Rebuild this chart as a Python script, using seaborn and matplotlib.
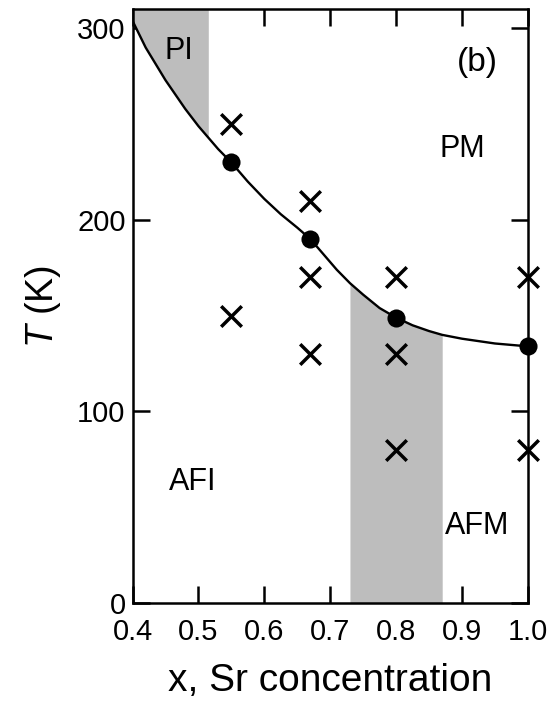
import numpy as np
import pandas as pd
import matplotlib
matplotlib.use("Agg")
import matplotlib.pyplot as plt
import seaborn as sns

# ---- data ----
curve_x = [0.40, 0.42, 0.45, 0.48, 0.50, 0.515, 0.53, 0.55, 0.575, 0.60, 0.625, 0.65, 0.67, 0.69, 0.71, 0.73,
           0.75, 0.775, 0.80, 0.825, 0.85, 0.87, 0.90, 0.95, 1.00]
curve_T = [304, 290, 273, 258, 249, 243, 237, 230, 220, 211, 203, 196, 190, 182, 174, 167,
           161, 154, 149, 145, 142, 140, 138, 135.5, 134]

circle_x = [0.55, 0.67, 0.80, 1.00]
circle_T = [230, 190, 149, 134]

cross_x = [0.55, 0.55, 0.67, 0.67, 0.67, 0.80, 0.80, 0.80, 1.00, 1.00]
cross_T = [250, 150, 210, 170, 130, 170, 130, 80, 170, 80]

pi_range = [0.40, 0.515]
afm_range = [0.73, 0.87]

x_ticks = [0.4, 0.5, 0.6, 0.7, 0.8, 0.9, 1.0]
x_ticklabels = ["0.4", "0.5", "0.6", "0.7", "0.8", "0.9", "1.0"]
y_ticks = [0, 100, 200, 300]
y_ticklabels = ["0", "100", "200", "300"]

labels = ["PI", "PM", "AFI", "AFM", "(b)"]
label_x = [0.47, 0.90, 0.492, 0.923, 0.924]
label_T = [288, 237, 63, 40, 282]

# ---- styling ----
sns.set_theme(style="ticks")
plt.rcParams['font.family'] = ['Liberation Sans', 'DejaVu Sans']
plt.rcParams['mathtext.fontset'] = 'custom'
plt.rcParams['mathtext.it'] = 'Liberation Sans:italic'
plt.rcParams['mathtext.rm'] = 'Liberation Sans'
plt.rcParams['text.color'] = 'black'
plt.rcParams['axes.labelcolor'] = 'black'
plt.rcParams['xtick.color'] = 'black'
plt.rcParams['ytick.color'] = 'black'

fig = plt.figure(figsize=(5.51, 7.08), dpi=100)
ax = fig.add_axes([0.2405, 0.1483, 0.958 - 0.2405, 0.9869 - 0.1483])

gray = "#bdbdbd"
cx = np.array(curve_x)
cT = np.array(curve_T)
ymax = 310

m = (cx >= pi_range[0]) & (cx <= pi_range[1])
ax.fill_between(cx[m], cT[m], ymax, color=gray, lw=0, zorder=1)
m = (cx >= afm_range[0]) & (cx <= afm_range[1])
ax.fill_between(cx[m], 0, cT[m], color=gray, lw=0, zorder=1)

curve_df = pd.DataFrame({"x": curve_x, "T": curve_T})
sns.lineplot(data=curve_df, x="x", y="T", sort=False, estimator=None,
             color="black", lw=1.7, ax=ax, zorder=3)

circ_df = pd.DataFrame({"x": circle_x, "T": circle_T})
sns.scatterplot(data=circ_df, x="x", y="T", marker="o", s=170, color="black",
                edgecolor="black", linewidth=0, ax=ax, zorder=4, clip_on=False)

cross_df = pd.DataFrame({"x": cross_x, "T": cross_T})
sns.scatterplot(data=cross_df, x="x", y="T", marker="x", s=220, color="black",
                linewidth=2.5, ax=ax, zorder=4, clip_on=False)

for t, lx, ly in zip(labels, label_x, label_T):
    ax.text(lx, ly, t, ha="center", va="center", fontsize=22 if t != "(b)" else 24,
            color="black", zorder=5)

ax.set_xlim(0.4, 1.0)
ax.set_ylim(0, ymax)
ax.set_xticks(x_ticks)
ax.set_xticklabels(x_ticklabels, fontsize=21)
ax.set_yticks(y_ticks)
ax.set_yticklabels(y_ticklabels, fontsize=21)
ax.tick_params(direction="in", length=12, width=1.8, top=True, right=True, pad=5)
ax.tick_params(axis="x", pad=11)
for s in ax.spines.values():
    s.set_linewidth(1.8)
    s.set_color("black")
    s.set_zorder(6)

ax.set_xlabel("x, Sr concentration", fontsize=28, labelpad=12)
ax.set_ylabel(r"$T$ (K)", fontsize=27, labelpad=10)

fig.savefig("out.png", dpi=100)
